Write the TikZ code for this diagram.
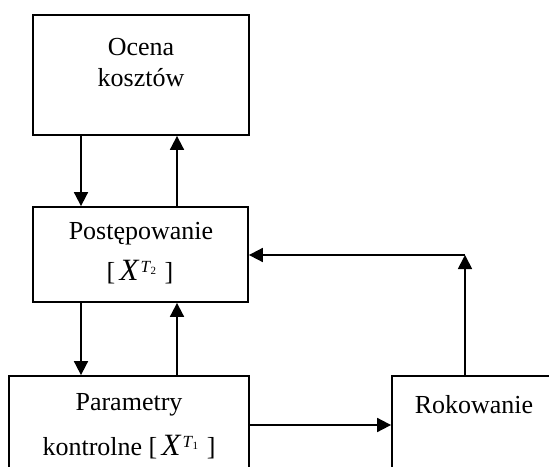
\documentclass[tikz,border=0pt]{standalone}
\usepackage{fontspec}
\setmainfont{Liberation Serif}
\usetikzlibrary{arrows.meta}

% matrix variable X with a T_n superscript, set in brackets
\newcommand{\matvar}[1]{[\,{\fontsize{31}{31}\selectfont\itshape X}\hspace{2pt}\raisebox{8pt}{\fontsize{17}{17}\selectfont\itshape T\hspace{0.5pt}\raisebox{-2.5pt}{\fontsize{11}{11}\selectfont\upshape #1}}\,\,]}

\tikzset{
  block/.style={draw, line width=1.8pt, inner sep=0pt},
  label/.style={align=center, inner sep=0pt, font=\fontsize{26}{32}\selectfont},
  flow/.style={line width=1.8pt, -{Triangle[length=14pt,width=14pt]}}
}

\begin{document}
\begin{tikzpicture}[x=1pt,y=-1pt]
  \useasboundingbox (0,0) rectangle (549,466);
  \clip (0,0) rectangle (549,466);

  % boxes
  \node[block, minimum width=216pt, minimum height=120pt] (ocena) at (141,75) {};
  \node[block, minimum width=215pt, minimum height=95pt] (post) at (140.5,254.5) {};
  \node[block, minimum width=240pt, minimum height=160pt] (param) at (129,456) {};
  \node[block, minimum width=220pt, minimum height=160pt] (rok) at (502,456) {};

  % box texts
  \node[label] (ocenaA) at (141,47) {Ocena};
  \node[label] (ocenaB) at (141,78) {kosztów};
  \node[label] (postA) at (141,234) {Postępowanie};
  \node[label] (postB) at (140,272) {\matvar{2}};
  \node[label] (paramA) at (129,405) {Parametry};
  \node[label] (paramB) at (129,447) {kontrolne \matvar{1}};
  \node[label] (rokA) at (474,405) {Rokowanie};

  % columns and rows for the connectors
  \coordinate (colA) at (81,0);
  \coordinate (colB) at (177,0);
  \coordinate (corner) at (465,255);
  \coordinate (rowC) at (0,425);

  % vertical links
  \draw[flow] (colA |- ocena.south) -- (colA |- post.north);
  \draw[flow] (colB |- post.north) -- (colB |- ocena.south);
  \draw[flow] (colA |- post.south) -- (colA |- param.north);
  \draw[flow] (colB |- param.north) -- (colB |- post.south);

  % feedback from Rokowanie
  \draw[flow] (corner |- rok.north) -- (corner);
  \draw[flow] (corner) -- (corner -| post.east);

  % Parametry to Rokowanie
  \draw[flow] (rowC -| param.east) -- (rowC -| rok.west);
\end{tikzpicture}
\end{document}
